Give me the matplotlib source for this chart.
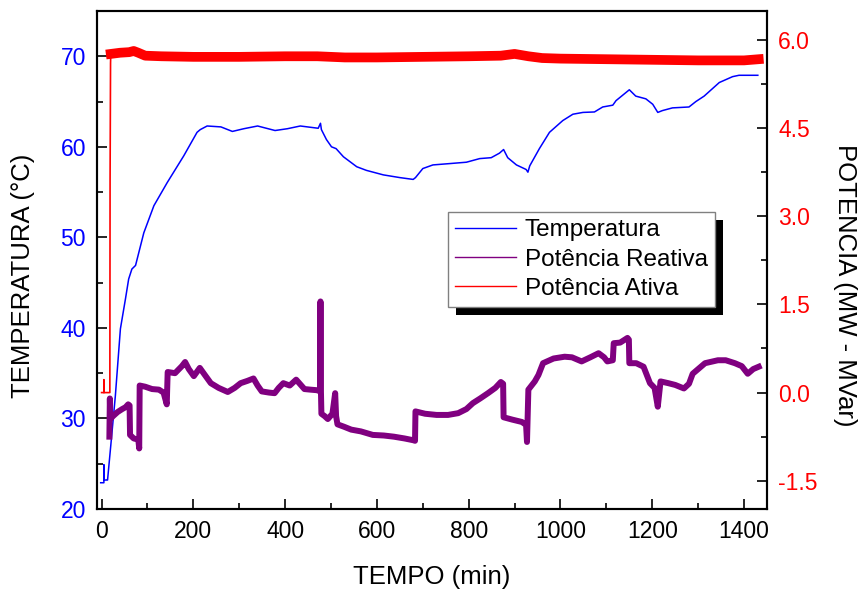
import matplotlib
matplotlib.use("Agg")
import matplotlib.pyplot as plt
from matplotlib.lines import Line2D
from matplotlib.patches import Rectangle
from matplotlib.transforms import IdentityTransform
from matplotlib.ticker import MultipleLocator, FormatStrFormatter

plt.rcParams["font.family"] = ["Liberation Sans", "DejaVu Sans"]
plt.rcParams["axes.unicode_minus"] = False

# Temperature (°C) vs time (min)
temp_time = [-2, 5, 5, 5.5, 12, 13, 20, 30, 41, 52, 59, 66, 74, 92, 114, 143, 179,
             208, 215, 230, 260, 285, 310, 340, 378, 405, 433, 472, 477, 479, 490,
             501, 511, 527, 556, 577, 614, 650, 679, 684, 700, 722, 759, 795, 824,
             849, 867, 876, 885, 904, 925, 929, 933, 954, 976, 1005, 1027, 1049,
             1074, 1092, 1114, 1121, 1150, 1164, 1186, 1201, 1212, 1222, 1244, 1280,
             1295, 1313, 1346, 1375, 1389, 1430]
temp_val = [22.9, 22.9, 24.9, 23.2, 23.2, 23.2, 27.0, 32.5, 39.9, 43.2, 45.4, 46.5,
            46.9, 50.5, 53.5, 56.05, 59.0, 61.6, 61.9, 62.3, 62.2, 61.7, 62.0, 62.3,
            61.8, 62.0, 62.3, 62.05, 62.6, 61.9, 60.8, 60.0, 59.8, 58.9, 57.8, 57.4,
            56.9, 56.6, 56.4, 56.6, 57.6, 58.0, 58.15, 58.3, 58.7, 58.8, 59.3, 59.7,
            58.8, 58.0, 57.5, 57.2, 57.9, 59.8, 61.6, 62.9, 63.6, 63.8, 63.85, 64.4,
            64.6, 65.1, 66.3, 65.6, 65.3, 64.7, 63.8, 64.0, 64.3, 64.4, 65.0, 65.6,
            67.1, 67.75, 67.9, 67.9]

# Reactive power (MVar)
reac_time = [17, 18, 19, 25, 35, 45, 52, 58, 61, 62, 70, 80, 82, 83, 95, 110, 125,
             135, 142, 144, 160, 175, 182, 190, 201, 214, 225, 238, 255, 275, 290,
             303, 318, 331, 340, 349, 365, 377, 386, 396, 410, 424, 433, 442, 455,
             470, 476, 477, 478, 479, 486, 493, 503, 509, 511, 514, 528, 544, 565,
             591, 615, 637, 660, 679, 683, 684, 705, 730, 755, 777, 795, 809, 825,
             842, 858, 870, 875, 876, 895, 916, 925, 927, 930, 944, 952, 962, 985,
             1009, 1025, 1046, 1065, 1083, 1095, 1102, 1114, 1116, 1130, 1146, 1149,
             1150, 1165, 1181, 1195, 1205, 1212, 1218, 1235, 1250, 1269, 1280, 1288,
             1300, 1315, 1343, 1360, 1380, 1395, 1408, 1420, 1432]
reac_val = [-0.75, -0.10, -0.45, -0.40, -0.33, -0.28, -0.25, -0.20, -0.22, -0.72,
            -0.78, -0.80, -0.95, 0.12, 0.10, 0.06, 0.05, 0.00, -0.20, 0.35, 0.33,
            0.45, 0.52, 0.40, 0.28, 0.42, 0.30, 0.16, 0.08, 0.01, 0.08, 0.16, 0.20,
            0.24, 0.12, 0.02, 0.00, -0.01, 0.08, 0.16, 0.12, 0.22, 0.14, 0.06, 0.05,
            0.04, 0.02, 1.55, 0.02, -0.36, -0.40, -0.45, -0.36, -0.01, -0.40, -0.54,
            -0.58, -0.63, -0.66, -0.72, -0.73, -0.75, -0.78, -0.81, -0.82, -0.32,
            -0.36, -0.38, -0.38, -0.35, -0.28, -0.18, -0.10, -0.01, 0.08, 0.18, 0.15,
            -0.42, -0.46, -0.50, -0.55, -0.84, 0.05, 0.19, 0.30, 0.50, 0.58, 0.61,
            0.60, 0.53, 0.60, 0.67, 0.60, 0.53, 0.55, 0.84, 0.85, 0.93, 0.90, 0.50,
            0.50, 0.44, 0.16, 0.08, -0.24, 0.19, 0.16, 0.13, 0.07, 0.15, 0.32, 0.40,
            0.50, 0.55, 0.55, 0.50, 0.45, 0.32, 0.40, 0.44]

# Active power (MW)
act_time = [0, 5, 5, 5.3, 18, 18.5, 19.5, 20, 40, 60, 70, 80, 95, 130, 200, 300, 400,
            470, 530, 600, 700, 800, 870, 900, 930, 960, 1000, 1100, 1200, 1300,
            1400, 1432]
act_val = [0.0, 0.0, 0.22, 0.0, 0.0, 3.6, 5.6, 5.76, 5.78, 5.79, 5.81, 5.78, 5.73,
           5.72, 5.71, 5.71, 5.72, 5.72, 5.70, 5.70, 5.71, 5.72, 5.73, 5.76, 5.72,
           5.69, 5.68, 5.67, 5.66, 5.65, 5.65, 5.67]

series_names = ["Temperatura", "Potência Reativa", "Potência Ativa"]
series_colors = ["#0000ff", "#800080", "#ff0000"]

fig = plt.figure(figsize=(8.6, 5.92), dpi=100, facecolor="white")
ax = fig.add_axes([97 / 860, 83 / 592, 670 / 860, 498 / 592])
ax2 = ax.twinx()

ax.plot(temp_time, temp_val, color=series_colors[0], lw=1.1, zorder=3)
ax2.plot(reac_time, reac_val, color=series_colors[1], lw=4.3)
ax2.plot(act_time, act_val, color=series_colors[2], lw=1.2)
ax2.plot(act_time[7:], act_val[7:], color=series_colors[2], lw=7.0)

ax.set_xlim(-10, 1450)
ax.set_ylim(20, 75)
ax2.set_ylim(-1.98, 6.49)

ax.xaxis.set_major_locator(MultipleLocator(200))
ax.xaxis.set_minor_locator(MultipleLocator(100))
ax.yaxis.set_major_locator(MultipleLocator(10))
ax.yaxis.set_minor_locator(MultipleLocator(5))
ax2.yaxis.set_major_locator(MultipleLocator(1.5))
ax2.yaxis.set_minor_locator(MultipleLocator(0.75))
ax2.yaxis.set_major_formatter(FormatStrFormatter("%.1f"))

for a in (ax, ax2):
    for s in a.spines.values():
        s.set_linewidth(1.5)

ax.tick_params(axis="both", which="both", direction="in", top=False, right=False,
               width=1.2, labelsize=16.5, pad=8)
ax.tick_params(which="major", length=7)
ax.tick_params(which="minor", length=4)
ax.tick_params(axis="y", labelcolor="#0000ff")
ax2.tick_params(axis="y", which="both", direction="in", width=1.2, labelsize=16.5,
                pad=8, labelcolor="#ff0000")
ax2.tick_params(which="major", length=7)
ax2.tick_params(which="minor", length=4)

ax.set_xlabel("TEMPO (min)", fontsize=18.5)
ax.set_ylabel("TEMPERATURA (°C)", fontsize=18.5)
ax2.set_ylabel("POTENCIA (MW - MVar)", fontsize=18.5, rotation=270, va="center")
ax.xaxis.set_label_coords(0.5, -0.113)
ax.yaxis.set_label_coords(-0.092, 0.468)
ax2.yaxis.set_label_coords(1.116, 0.45)

handles = [Line2D([], [], color=c, lw=1.0) for c in series_colors]
leg = ax2.legend(handles, series_names, loc="upper left",
                 bbox_to_anchor=(351 / 670, 297 / 498), borderaxespad=0,
                 fontsize=17.5, frameon=True, fancybox=False, framealpha=1,
                 edgecolor="#808080", handlelength=2.5, handletextpad=0.35,
                 labelspacing=0.3, borderpad=0.3)
leg.get_frame().set_linewidth(1.0)
leg.set_zorder(6)

fig.canvas.draw()
bb = leg.get_window_extent()
shadow = Rectangle((bb.x0 + 8, bb.y0 - 8), bb.width, bb.height,
                   transform=IdentityTransform(), facecolor="black",
                   edgecolor="none", zorder=5)
ax2.add_patch(shadow)
ax2.set_ylim(-1.98, 6.49)

fig.savefig("out.png", dpi=100)
